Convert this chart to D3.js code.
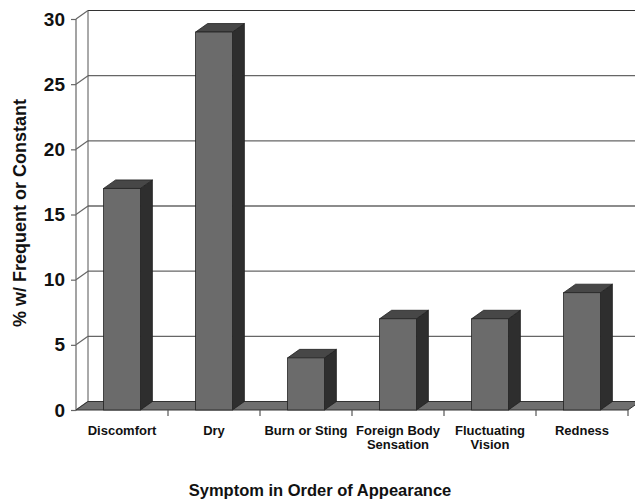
<!DOCTYPE html>
<html>
<head>
<meta charset="utf-8">
<script src="https://cdn.jsdelivr.net/npm/d3@7"></script>
<style>
  html, body { margin: 0; padding: 0; background: #fff; }
  svg { display: block; font-family: "Liberation Sans", Arial, sans-serif; }
</style>
</head>
<body>
<svg id="chart" width="635" height="501"></svg>
<script>
// Symptom frequencies
const categories = ["Discomfort", "Dry", "Burn or Sting", "Foreign Body\nSensation", "Fluctuating\nVision", "Redness"];
const values = [17, 29, 4, 7, 7, 9];
const yTicks = [0, 5, 10, 15, 20, 25, 30];
const yTitle = "% w/ Frequent or Constant";
const xTitle = "Symptom in Order of Appearance";

const svg = d3.select("#chart");

// front plane geometry and 3D depth offset
const plotLeft = 76, plotRight = 628, plotBottom = 410, plotTop = 19;
const depthX = 12, depthY = -8.5;

const x = d3.scaleBand().domain(categories).range([plotLeft, plotRight]).padding(0);
const y = d3.scaleLinear().domain([0, 30]).range([plotBottom, plotTop]);
const barW = x.bandwidth() * 0.4;

// back wall gridlines
svg.append("g").selectAll("line").data(yTicks.slice(1)).join("line")
  .attr("x1", plotLeft + depthX).attr("x2", 635)
  .attr("y1", d => y(d) + depthY).attr("y2", d => y(d) + depthY)
  .attr("stroke", d => d === 30 ? "#333" : "#666")
  .attr("stroke-width", d => d === 30 ? 1 : 1.3);

// back wall left edge
svg.append("line")
  .attr("x1", plotLeft + depthX).attr("x2", plotLeft + depthX)
  .attr("y1", y(30) + depthY).attr("y2", y(0) + depthY)
  .attr("stroke", "#555").attr("stroke-width", 1);

// side wall: front axis line and diagonal connectors per tick
svg.append("line")
  .attr("x1", plotLeft).attr("x2", plotLeft)
  .attr("y1", y(30)).attr("y2", y(0))
  .attr("stroke", "#666").attr("stroke-width", 1.2);
svg.append("g").selectAll("line").data(yTicks).join("line")
  .attr("x1", plotLeft).attr("x2", plotLeft + depthX)
  .attr("y1", d => y(d)).attr("y2", d => y(d) + depthY)
  .attr("stroke", "#666").attr("stroke-width", 1.2);

// floor
svg.append("path")
  .attr("d", `M${plotLeft},${y(0)} L${plotRight},${y(0)} L${plotRight + depthX},${y(0) + depthY} L${plotLeft + depthX},${y(0) + depthY} Z`)
  .attr("fill", "#6f6f6f").attr("stroke", "#333").attr("stroke-width", 1);

// y axis ticks and labels
const yAxis = d3.axisLeft(y).tickValues(yTicks).tickSize(5).tickPadding(6);
const gy = svg.append("g").attr("transform", `translate(${plotLeft},0)`).call(yAxis);
gy.select(".domain").remove();
gy.selectAll(".tick line").attr("stroke", "#666").attr("stroke-width", 1.2);
gy.selectAll(".tick text")
  .attr("font-family", "'Liberation Sans', Arial, sans-serif")
  .attr("font-size", 19).attr("font-weight", "bold").attr("fill", "#111");

// x axis ticks at category boundaries
const boundaries = categories.map((c, i) => plotLeft + x.bandwidth() * (i + 1));
svg.append("g").selectAll("line").data(boundaries).join("line")
  .attr("x1", d => d).attr("x2", d => d)
  .attr("y1", y(0)).attr("y2", y(0) + 6)
  .attr("stroke", "#555").attr("stroke-width", 1.2);

// bars: side, top, front faces
const bars = svg.append("g").selectAll("g").data(categories).join("g");
const bx = d => x(d) + x.bandwidth() / 2 - barW / 2;
bars.append("path")
  .attr("d", (d, i) => {
    const x0 = bx(d) + barW, yt = y(values[i]), yb = y(0);
    return `M${x0},${yb} L${x0 + depthX},${yb + depthY} L${x0 + depthX},${yt + depthY} L${x0},${yt} Z`;
  })
  .attr("fill", "#2e2e2e").attr("stroke", "#222").attr("stroke-width", 0.8);
bars.append("path")
  .attr("d", (d, i) => {
    const x0 = bx(d), yt = y(values[i]);
    return `M${x0},${yt} L${x0 + depthX},${yt + depthY} L${x0 + barW + depthX},${yt + depthY} L${x0 + barW},${yt} Z`;
  })
  .attr("fill", "#474747").attr("stroke", "#222").attr("stroke-width", 0.8);
bars.append("rect")
  .attr("x", bx)
  .attr("y", (d, i) => y(values[i]))
  .attr("width", barW)
  .attr("height", (d, i) => y(0) - y(values[i]))
  .attr("fill", "#6b6b6b").attr("stroke", "#222").attr("stroke-width", 0.8);

// category labels
const xl = svg.append("g").selectAll("text").data(categories).join("text")
  .attr("x", d => x(d) + x.bandwidth() / 2)
  .attr("y", 435)
  .attr("text-anchor", "middle")
  .attr("font-size", 13).attr("font-weight", "bold").attr("fill", "#111");
xl.selectAll("tspan").data(d => d.split("\n")).join("tspan")
  .attr("x", function() { return d3.select(this.parentNode).attr("x"); })
  .attr("dy", (d, i) => i === 0 ? 0 : 14)
  .text(d => d);

// axis titles
svg.append("text")
  .attr("transform", `translate(26,213) rotate(-90)`)
  .attr("text-anchor", "middle")
  .attr("font-size", 18).attr("font-weight", "bold").attr("fill", "#111")
  .text(yTitle);
svg.append("text")
  .attr("x", 320).attr("y", 496)
  .attr("text-anchor", "middle")
  .attr("font-size", 16.5).attr("font-weight", "bold").attr("fill", "#111")
  .text(xTitle);
</script>
</body>
</html>
